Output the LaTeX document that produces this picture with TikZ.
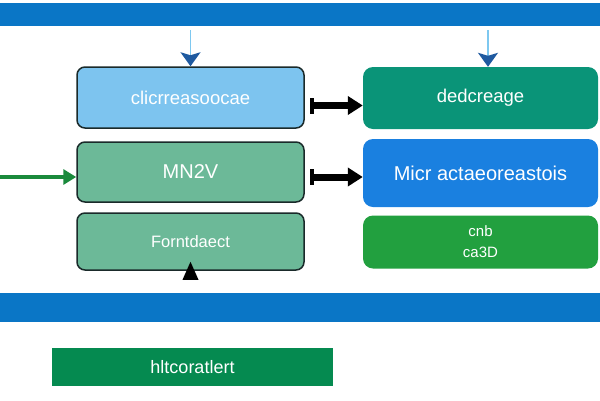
\documentclass[tikz,border=0pt]{standalone}
\usepackage{fontspec}
\setmainfont{Liberation Sans}
\usetikzlibrary{arrows.meta}
\definecolor{barblue}{HTML}{0A76C6}
\definecolor{lightb}{HTML}{7DC4EF}
\definecolor{teal1}{HTML}{0A9478}
\definecolor{sage}{HTML}{6CB998}
\definecolor{brightb}{HTML}{1A80E0}
\definecolor{grn}{HTML}{22A03F}
\definecolor{dgrn}{HTML}{058A50}
\definecolor{edge}{HTML}{1A2A2A}
\definecolor{shaftb}{HTML}{7EC8F0}
\definecolor{headb}{HTML}{1F5AA0}
\definecolor{garr}{HTML}{1A8A3C}
\tikzset{
  lbox/.style={rectangle, rounded corners=8pt, draw=edge, line width=1.5pt, minimum width=227pt, text=white, font=\fontsize{18.5}{20}\selectfont},
  rbox/.style={rectangle, rounded corners=10pt, minimum width=235pt, text=white, font=\fontsize{18.5}{20}\selectfont},
  bar/.style={rectangle, fill=barblue, minimum width=600pt, inner sep=0pt},
  blk/.style={line width=7pt, {Rectangle[length=4pt,width=16pt]}-{Triangle[length=15pt,width=18pt]}},
  toparr/.style={shaftb, line width=1.5pt, -{Stealth[length=14pt,width=20pt,inset=3pt,color=headb]}},
  garrow/.style={garr, line width=4pt, -{Triangle[length=13pt,width=15pt]}}
}
\begin{document}
\begin{tikzpicture}[x=1pt,y=-1pt]
\fill[white] (0,0) rectangle (600,400);
\useasboundingbox (0,0) rectangle (600,400);
\node[bar, minimum height=23.5pt] (bar1) at (300,14.3) {};
\node[bar, minimum height=29pt] (bar2) at (300,307.5) {};
\node[lbox, fill=lightb, minimum height=61pt] (b1) at (190.5,97.5) {clicrreasoocae};
\node[rbox, fill=teal1, minimum height=62pt] (b2) at (480.5,98) {dedcreage};
\node[lbox, fill=sage, minimum height=60pt, font=\fontsize{20}{22}\selectfont] (b3) at (190.5,172) {MN2V};
\node[rbox, fill=brightb, minimum height=68pt, font=\fontsize{20}{22}\selectfont] (b4) at (480.5,173) {Micr actaeoreastois};
\node[lbox, fill=sage, minimum height=57pt, font=\fontsize{16.5}{18}\selectfont] (b5) at (190.5,241.5) {Forntdaect};
\node[rbox, fill=grn, minimum height=53pt, align=center, font=\fontsize{15}{21}\selectfont] (b6) at (480.5,242) {cnb\\ca3D};
\node[rectangle, fill=dgrn, minimum width=281pt, minimum height=38pt, text=white, font=\fontsize{18}{20}\selectfont] (b7) at (192.5,367) {hltcoratlert};
% top arrows
\draw[toparr] ([yshift=-4pt]bar1.south -| b1.north) -- (b1.north);
\coordinate (t2) at ([xshift=7.5pt]b2.north);
\draw[toparr] ([yshift=-4pt]bar1.south -| t2) -- (t2);
% black arrows
\coordinate (s1) at ([xshift=5pt,yshift=-8pt]b1.east);
\draw[blk] (s1) -- (s1 -| b2.west);
\coordinate (s2) at ([xshift=5pt,yshift=-5pt]b3.east);
\draw[blk] (s2) -- (s2 -| b4.west);
% green input arrow
\coordinate (gin) at (0,177);
\draw[garrow] (gin) -- (gin -| b3.west);
% bottom triangle
\fill[black] ([yshift=9pt]b5.south) -- ([xshift=8pt,yshift=-9pt]b5.south) -- ([xshift=-8pt,yshift=-9pt]b5.south) -- cycle;
\end{tikzpicture}
\end{document}
